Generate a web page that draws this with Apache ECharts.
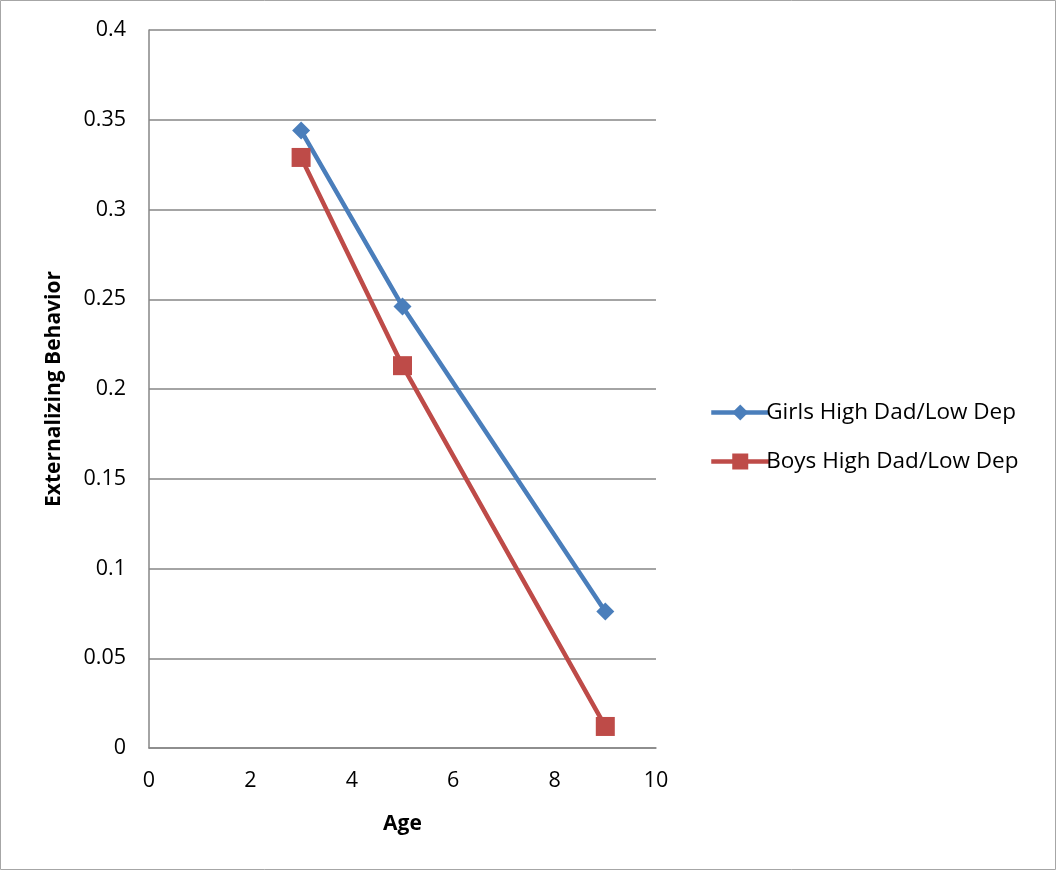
<!DOCTYPE html>
<html><head><meta charset="utf-8">
<script src="https://cdn.jsdelivr.net/npm/echarts@6/dist/echarts.min.js"></script>
<style>html,body{margin:0;padding:0;background:#fff}#c{width:1057px;height:871px}</style>
</head><body><div id="c"></div>
<script>
const ages = [3, 5, 9];
const girls = [0.344, 0.246, 0.076];
const boys = [0.329, 0.213, 0.012];
const seriesNames = ['Girls High Dad/Low Dep', 'Boys High Dad/Low Dep'];
const xTitle = 'Age';
const yTitle = 'Externalizing Behavior';

const chart = echarts.init(document.getElementById('c'));
const font = 'Open Sans, Liberation Sans, sans-serif';
chart.setOption({
  animation: false,
  backgroundColor: '#fff',
  graphic: [{type:'rect', shape:{x:0.5,y:0.5,width:1055,height:869}, style:{fill:'none', stroke:'#a6a6a6', lineWidth:1}}],
  grid: {left:149, right:401, top:30, bottom:123},
  legend: {
    orient:'vertical', left:704, top:396, itemWidth:58, itemHeight:20, itemGap:26,
    textStyle:{fontFamily:font, fontSize:22.5, color:'#000', padding:[0,0,0,-8]},
    lineStyle:{width:4.5},
    data: seriesNames
  },
  xAxis: {
    type:'value', min:0, max:10, interval:2,
    name:xTitle, nameLocation:'middle', nameGap:66,
    nameTextStyle:{fontFamily:font, fontSize:21, fontWeight:'bold', color:'#000'},
    axisLine:{show:true, lineStyle:{color:'#868686', width:1.5}},
    axisTick:{show:false},
    axisLabel:{fontFamily:font, fontSize:21.5, color:'#000', margin:22},
    splitLine:{show:false}
  },
  yAxis: {
    type:'value', min:0, max:0.4, interval:0.05,
    name:yTitle, nameLocation:'middle', nameGap:84,
    nameTextStyle:{fontFamily:font, fontSize:21, fontWeight:'bold', color:'#000'},
    axisLine:{show:true, lineStyle:{color:'#868686', width:1.5}},
    axisTick:{show:false},
    axisLabel:{fontFamily:font, fontSize:21.5, color:'#000', margin:23, formatter: v => String(+v.toFixed(2))},
    splitLine:{show:true, lineStyle:{color:'#868686', width:1.5}}
  },
  series: [
    {name:seriesNames[0], type:'line', data:ages.map((a,i)=>[a,girls[i]]),
     symbol:'diamond', symbolSize:18, color:'#4A7EBB',
     lineStyle:{width:4.5, color:'#4A7EBB'}, itemStyle:{color:'#4A7EBB'}},
    {name:seriesNames[1], type:'line', data:ages.map((a,i)=>[a,boys[i]]),
     symbol:'rect', symbolSize:19, color:'#BE4B48',
     lineStyle:{width:4.5, color:'#BE4B48'}, itemStyle:{color:'#BE4B48'}}
  ]
});
</script></body></html>
